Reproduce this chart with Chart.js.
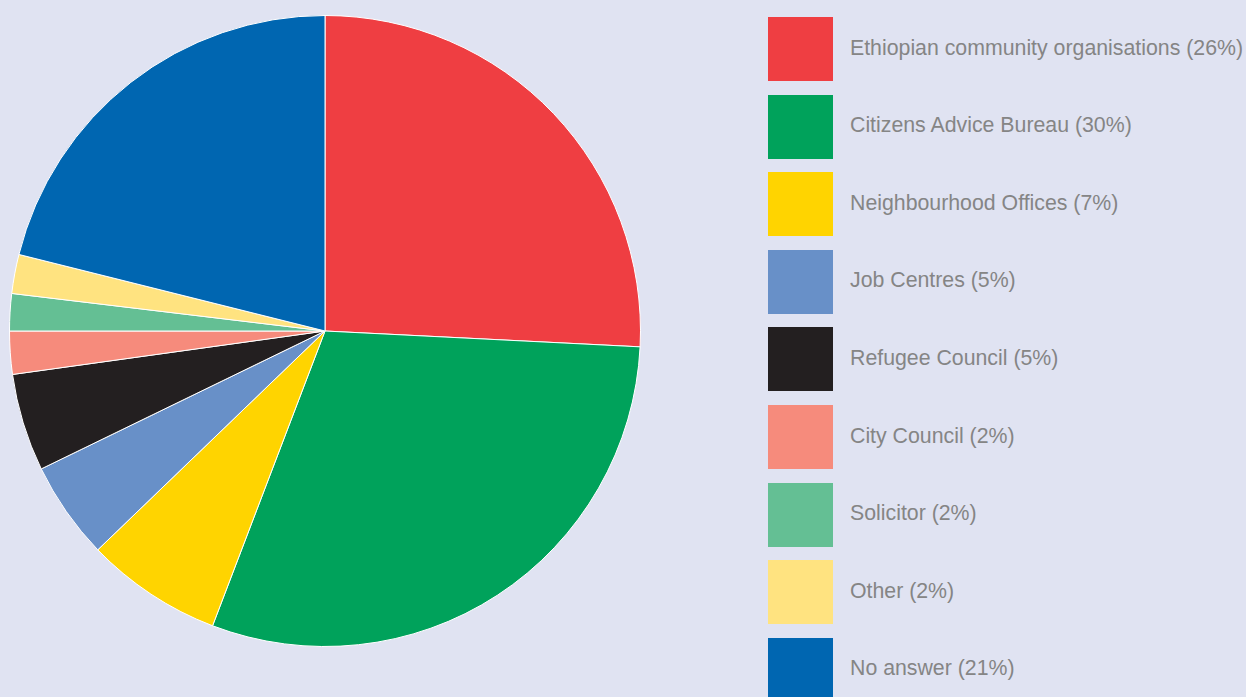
<!DOCTYPE html>
<html>
<head>
<meta charset="utf-8">
<script src="https://cdn.jsdelivr.net/npm/chart.js@4"></script>
<style>
    html, body { margin: 0; padding: 0; }
    body {
        width: 1246px;
        height: 697px;
        background: #e0e3f2;
        position: relative;
        overflow: hidden;
        font-family: "Liberation Sans", Arial, sans-serif;
    }
    #pieWrap { position: absolute; left: 9px; top: 15px; width: 632px; height: 632px; }
    .legend-item { position: absolute; left: 768px; height: 64px; display: flex; align-items: center; }
    .legend-box { width: 65px; height: 64px; flex: none; }
    .legend-text { margin-left: 17px; font-size: 21.3px; color: #858585; white-space: nowrap; position: relative; top: -1px; }
</style>
</head>
<body>
<div id="pieWrap"><canvas id="pieChart" width="632" height="632"></canvas></div>
<div id="legend"></div>
<script>
const labels = [
    'Ethiopian community organisations',
    'Citizens Advice Bureau',
    'Neighbourhood Offices',
    'Job Centres',
    'Refugee Council',
    'City Council',
    'Solicitor',
    'Other',
    'No answer'
];
// slice sizes (percent)
const values = [25.8, 30.0, 7.0, 5.0, 5.0, 2.2, 1.9, 2.0, 21.1];
// percentages printed in the legend
const shownPercent = [26, 30, 7, 5, 5, 2, 2, 2, 21];
const sliceColors = ['#ef3e42', '#00a25b', '#ffd400', '#6890c8', '#231f20', '#f68b7c', '#64bf94', '#ffe380', '#0066b1'];

new Chart(document.getElementById('pieChart').getContext('2d'), {
    type: 'pie',
    data: {
        labels: labels,
        datasets: [{
            data: values,
            backgroundColor: sliceColors,
            borderColor: '#ffffff',
            borderWidth: 1
        }]
    },
    options: {
        responsive: false,
        animation: false,
        layout: { padding: 0 },
        plugins: {
            legend: { display: false },
            tooltip: { enabled: false }
        }
    }
});

// legend on the right, one row per category
const legend = document.getElementById('legend');
labels.forEach((label, i) => {
    const item = document.createElement('div');
    item.className = 'legend-item';
    item.style.top = (17 + i * 77.6) + 'px';
    const box = document.createElement('div');
    box.className = 'legend-box';
    box.style.background = sliceColors[i];
    const text = document.createElement('span');
    text.className = 'legend-text';
    text.textContent = label + ' (' + shownPercent[i] + '%)';
    item.appendChild(box);
    item.appendChild(text);
    legend.appendChild(item);
});
</script>
</body>
</html>
